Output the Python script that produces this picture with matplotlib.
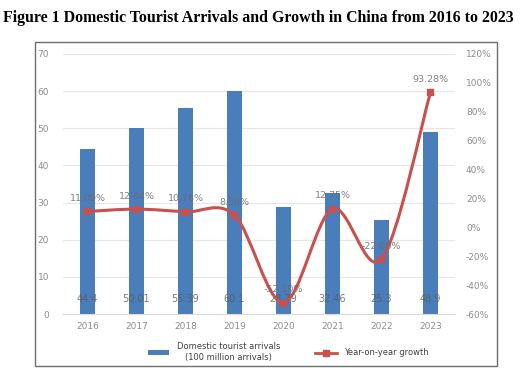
import matplotlib
matplotlib.use("Agg")
import matplotlib.pyplot as plt
from matplotlib.path import Path
from matplotlib.patches import PathPatch, Rectangle, Patch
from matplotlib.lines import Line2D

years = ["2016", "2017", "2018", "2019", "2020", "2021", "2022", "2023"]
arrivals = [44.4, 50.01, 55.39, 60.1, 28.79, 32.46, 25.3, 48.9]
growth = [11.00, 12.64, 10.76, 8.50, -52.10, 12.75, -22.06, 93.28]
arrival_labels = ["44.4", "50.01", "55.39", "60.1", "28.79", "32.46", "25.3", "48.9"]
growth_labels = ["11.00%", "12.64%", "10.76%", "8.50%", "-52.10%", "12.75%", "-22.06%", "93.28%"]

bar_color = "#4a7ebb"
line_color = "#c9504d"
tick_color = "#8c8c8c"

fig = plt.figure(figsize=(5.29, 3.74), dpi=100)
fig.text(0.489, 0.952, "Figure 1 Domestic Tourist Arrivals and Growth in China from 2016 to 2023",
         ha="center", va="center", fontsize=11.4, fontweight="bold", family="Liberation Serif")

# outer box of the chart
fig.patches.append(Rectangle((0.066, 0.021), 0.874, 0.867, transform=fig.transFigure,
                             fill=False, edgecolor="#6e6e6e", linewidth=1.0))

ax = fig.add_axes([0.119, 0.160, 0.741, 0.696])
x = list(range(len(years)))
ax.bar(x, arrivals, width=0.32, color=bar_color, zorder=2)
ax.set_xlim(-0.5, len(years) - 0.5)
ax.set_ylim(0, 70)
ax.set_yticks(range(0, 71, 10))
ax.set_xticks(x)
ax.set_xticklabels(years)
ax.grid(axis="y", color="#e6e6e6", linewidth=0.8, zorder=0)
ax.set_axisbelow(True)
for s in ax.spines.values():
    s.set_visible(False)
ax.spines["bottom"].set_visible(True)
ax.spines["bottom"].set_color("#d9d9d9")
ax.tick_params(length=0, labelsize=6.5, labelcolor=tick_color, pad=6)
ax.tick_params(axis="y", pad=10)

for i, lab in enumerate(arrival_labels):
    ax.text(i, 4, lab, ha="center", va="center", fontsize=7, color="#5a5a5a", alpha=0.8, zorder=4)

ax2 = ax.twinx()
ax2.set_ylim(-60, 120)
ax2.set_yticks(range(-60, 121, 20))
ax2.set_yticklabels([f"{v}%" for v in range(-60, 121, 20)])
for s in ax2.spines.values():
    s.set_visible(False)
ax2.tick_params(length=0, labelsize=6.5, labelcolor=tick_color, pad=8)

# smoothed line (Catmull-Rom as cubic Bezier segments)
pts = list(zip(x, growth))
verts = [pts[0]]
codes = [Path.MOVETO]
n = len(pts)
for i in range(n - 1):
    p0 = pts[i - 1] if i > 0 else pts[i]
    p1 = pts[i]
    p2 = pts[i + 1]
    p3 = pts[i + 2] if i + 2 < n else pts[i + 1]
    c1 = (p1[0] + (p2[0] - p0[0]) / 6, p1[1] + (p2[1] - p0[1]) / 6)
    c2 = (p2[0] - (p3[0] - p1[0]) / 6, p2[1] - (p3[1] - p1[1]) / 6)
    verts += [c1, c2, p2]
    codes += [Path.CURVE4, Path.CURVE4, Path.CURVE4]
ax2.add_patch(PathPatch(Path(verts, codes), facecolor="none", edgecolor=line_color,
                        linewidth=2.2, zorder=3))
ax2.plot(x, growth, linestyle="none", marker="s", markersize=5, color=line_color, zorder=4)

for i, lab in enumerate(growth_labels):
    ax2.text(i, growth[i] + 9, lab, ha="center", va="center", fontsize=6.8,
             color="#6a6a6a", alpha=0.85, zorder=5)

handles = [Patch(facecolor=bar_color),
           Line2D([0], [0], color=line_color, linewidth=2, marker="s", markersize=4)]
leg = fig.legend(handles, ["Domestic tourist arrivals\n(100 million arrivals)", "Year-on-year growth"],
                 loc="center", bbox_to_anchor=(0.545, 0.059), ncol=2, frameon=False,
                 fontsize=6, handlelength=2.6, handleheight=0.6, columnspacing=4.2,
                 handletextpad=0.9)
for t in leg.get_texts():
    t.set_color("#404040")
    t.set_multialignment("center")

fig.savefig("out.png", dpi=100)
